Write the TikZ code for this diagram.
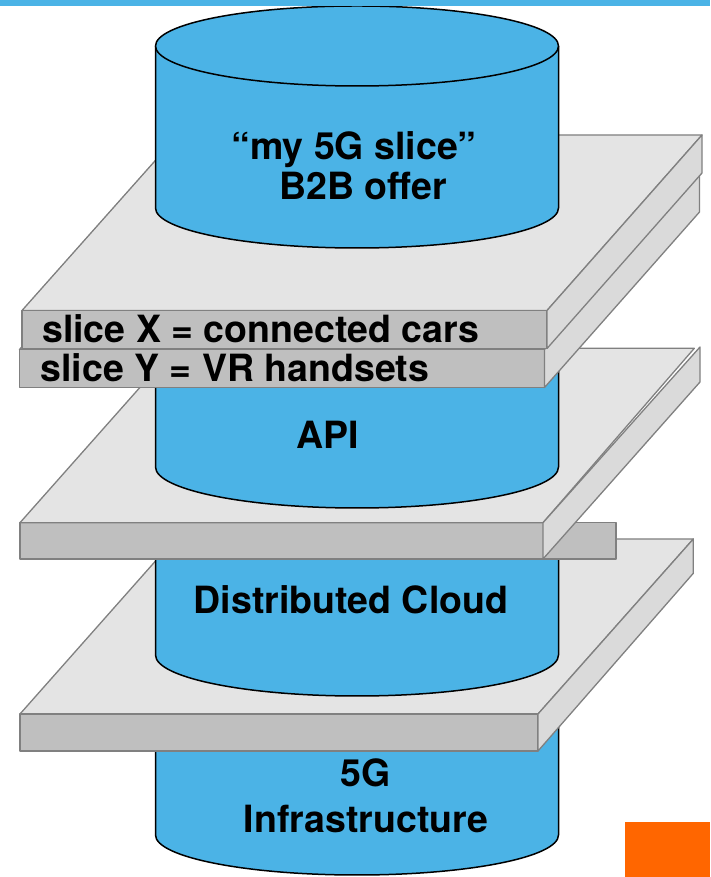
\documentclass[tikz,border=0pt]{standalone}
\usepackage{fontspec}
\setmainfont{TeX Gyre Heros}
\definecolor{cylblue}{HTML}{4BB3E6}
\definecolor{slabtopc}{HTML}{E4E4E4}
\definecolor{slabsidec}{HTML}{DADADA}
\definecolor{slabfrontc}{HTML}{BFBFBF}
\definecolor{slabline}{HTML}{808080}
\definecolor{orangebox}{HTML}{FF6600}
\newcommand\mycyl[3]{%
  \fill[cylblue] (155.5,#1) -- (155.5,#2) arc[start angle=180,end angle=360,x radius=201.5,y radius=#3] -- (558.5,#1) -- cycle;
  \draw[cylline] (155.5,#1) -- (155.5,#2) arc[start angle=180,end angle=360,x radius=201.5,y radius=#3] -- (558.5,#1);}
\begin{document}
\begin{tikzpicture}[x=1pt,y=1pt,
  cylline/.style={draw=black,line width=1.5pt,line join=round},
  slabtop/.style={fill=slabtopc,draw=slabline,line width=1.3pt,line join=round},
  slabside/.style={fill=slabsidec,draw=slabline,line width=1.3pt,line join=round},
  slabfront/.style={fill=slabfrontc,draw=slabline,line width=1.3pt,line join=round},
  lbl/.style={inner sep=0pt,font=\fontsize{37.5}{44}\selectfont\bfseries,text=black}]
\useasboundingbox (0,0) rectangle (710,877);
\fill[white] (0,0) rectangle (710,877);
% cylinder 4 (5G infrastructure)
\mycyl{177}{42}{40}
% slab 4
\filldraw[slabtop] (20,163) -- (538,163) -- (693.3,338) -- (175,338) -- cycle;
\filldraw[slabfront] (20,126) rectangle (538,163);
\filldraw[slabside] (538,163) -- (693.3,338) -- (693.3,303.7) -- (538,126) -- cycle;
% cylinder 3 (distributed cloud)
\mycyl{347}{222}{41}
% slab 3
\filldraw[slabfront] (20,318) rectangle (616,354.3);
\filldraw[slabtop] (20,354.3) -- (543,354.3) -- (694.3,528.7) -- (174.6,528.7) -- cycle;
\filldraw[slabside] (543,354.3) -- (700,530) -- (700,495) -- (543,318) -- cycle;
% cylinder 2 (API)
\mycyl{547}{410}{41}
% slab Y
\filldraw[slabtop] (19.5,527.5) -- (544.5,527.5) -- (699.5,703) -- (175.5,703) -- cycle;
\filldraw[slabfront] (19.5,489.5) rectangle (544.5,527.5);
\filldraw[slabside] (544.5,527.5) -- (699.5,703) -- (699.5,665) -- (544.5,489.5) -- cycle;
% slab X
\filldraw[slabtop] (22,566.5) -- (547,566.5) -- (702,742) -- (178,742) -- cycle;
\filldraw[slabfront] (22,528.5) rectangle (547,566.5);
\filldraw[slabside] (547,566.5) -- (702,742) -- (702,704) -- (547,528.5) -- cycle;
% cylinder 1 (offer)
\mycyl{831}{669}{40}
\filldraw[fill=cylblue,cylline] (357,831) ellipse[x radius=201.5,y radius=40];
% labels
\node[lbl,anchor=base] (offer1) at (354,717) {“my 5G slice”};
\node[lbl,anchor=base] (offer2) at (363,677) {B2B offer};
\node[lbl,anchor=base west] (slicex) at (42,534.5) {slice X = connected cars};
\node[lbl,anchor=base west] (slicey) at (40.5,495.5) {slice Y = VR handsets};
\node[lbl,anchor=base] (api) at (328,428) {API};
\node[lbl,anchor=base] (cloud) at (351,263) {Distributed Cloud};
\node[lbl,anchor=base] (infra1) at (366,90) {5G};
\node[lbl,anchor=base] (infra2) at (366,44) {Infrastructure};
% top bar and corner box
\fill[cylblue] (0,871) rectangle (710,877);
\fill[orangebox] (625,0) rectangle (710,55);
\end{tikzpicture}
\end{document}
